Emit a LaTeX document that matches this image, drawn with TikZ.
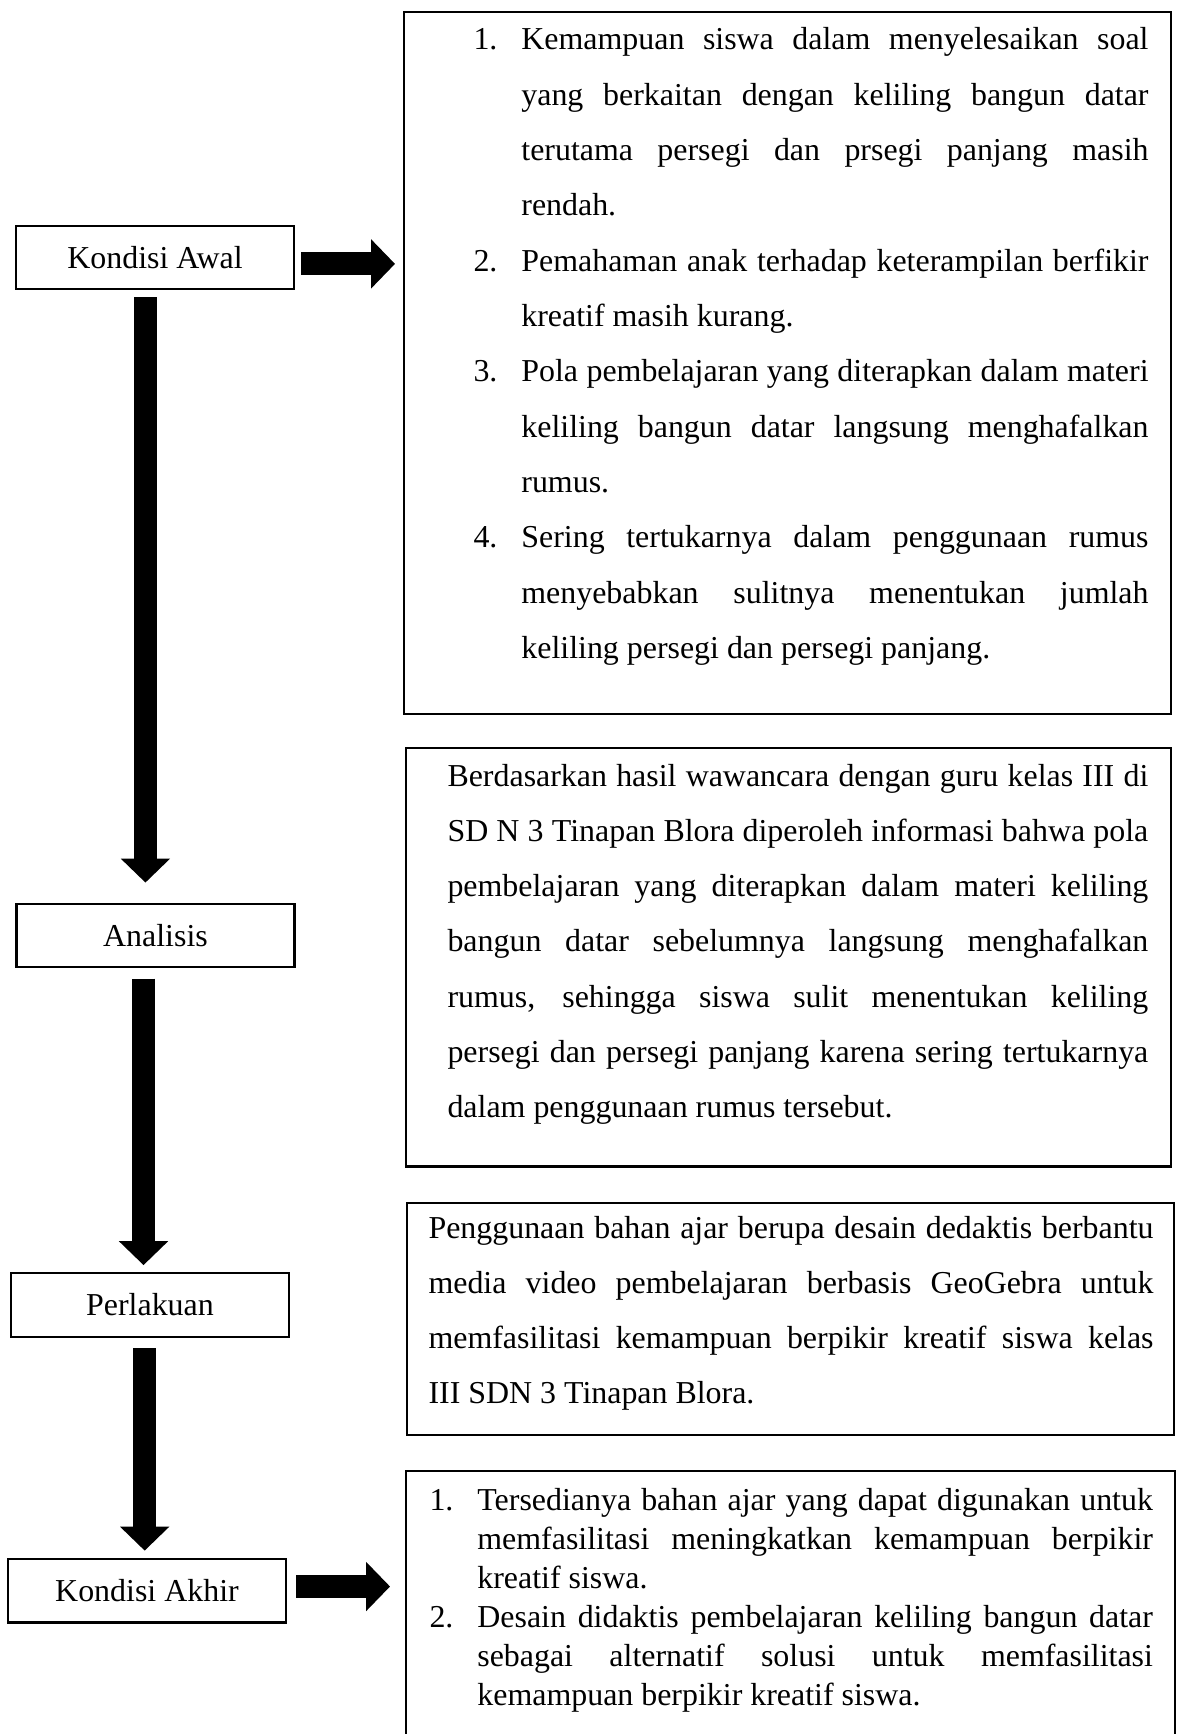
\documentclass[tikz,border=0pt]{standalone}
\usepackage{fontspec}
\setmainfont{Liberation Serif}
\usetikzlibrary{arrows.meta}
\tikzset{>=latex}
\tikzset{
  stage/.style={draw, line width=0.8pt, minimum width=104.5pt, minimum height=24pt, inner sep=0pt, font=\fontsize{12}{14}\selectfont},
  panel/.style={draw, line width=0.9pt, inner sep=0pt, anchor=north west},
  paneltext/.style={anchor=base west, inner sep=0pt, align=justify, font=\fontsize{12}{20.8}\selectfont},
  blockarrow/.style={line width=8.6pt, -{Triangle[length=9pt, width=18pt]}}
}
\newcommand{\numitem}[2]{\hangindent=18pt\hangafter=1\noindent\makebox[18pt][l]{#1}#2\par}

\begin{document}
\begin{tikzpicture}[x=0.376pt, y=-0.376pt]
\useasboundingbox (0,0) rectangle (1182,1734);
% stages
\node[stage] (awal) at (155,257.5) {Kondisi Awal};
\node[stage] (analisis) at (155.5,935.5) {Analisis};
\node[stage] (perlakuan) at (150,1305) {Perlakuan};
\node[stage] (akhir) at (147,1590.5) {Kondisi Akhir};

% kondisi awal
\node[panel, minimum width=288.3pt, minimum height=263.9pt] (awalbox) at (403,11) {};
\node[paneltext, text width=253.8pt] (awaltext) at (473,50) {%
\numitem{1.}{Kemampuan siswa dalam menyelesaikan soal\linebreak yang berkaitan dengan keliling bangun datar\linebreak terutama persegi dan prsegi panjang masih\linebreak rendah.}%
\numitem{2.}{Pemahaman anak terhadap keterampilan berfikir\linebreak kreatif masih kurang.}%
\numitem{3.}{Pola pembelajaran yang diterapkan dalam materi\linebreak keliling bangun datar langsung menghafalkan\linebreak rumus.}%
\numitem{4.}{Sering tertukarnya dalam penggunaan rumus\linebreak menyebabkan sulitnya menentukan jumlah\linebreak keliling persegi dan persegi panjang.}};

% analisis
\node[panel, minimum width=287.6pt, minimum height=157.3pt] (analisisbox) at (405,747) {};
\node[paneltext, text width=263.5pt] (analisistext) at (447,786) {Berdasarkan hasil wawancara dengan guru kelas III di\linebreak SD N 3 Tinapan Blora diperoleh informasi bahwa pola\linebreak pembelajaran yang diterapkan dalam materi keliling\linebreak bangun datar sebelumnya langsung menghafalkan\linebreak rumus, sehingga siswa sulit menentukan keliling\linebreak persegi dan persegi panjang karena sering tertukarnya\linebreak dalam penggunaan rumus tersebut.};

% perlakuan
\node[panel, minimum width=288.3pt, minimum height=87.2pt] (perlakuanbox) at (406,1202) {};
\node[paneltext, text width=272.6pt] (perlakuantext) at (428,1238) {Penggunaan bahan ajar berupa desain dedaktis berbantu\linebreak media video pembelajaran berbasis GeoGebra untuk\linebreak memfasilitasi kemampuan berpikir kreatif siswa kelas\linebreak III SDN 3 Tinapan Blora.};

% kondisi akhir (bottom edge runs off the page)
\node[panel, draw=none, minimum width=288.3pt, minimum height=99pt] (akhirbox) at (406,1471) {};
\draw[line width=0.9pt] (akhirbox.south west) -- (akhirbox.north west) -- (akhirbox.north east) -- (akhirbox.south east);
\node[paneltext, text width=272pt, font=\fontsize{12}{14.7}\selectfont] (akhirtext) at (429,1510) {%
\numitem{1.}{Tersedianya bahan ajar yang dapat digunakan untuk\linebreak memfasilitasi meningkatkan kemampuan berpikir\linebreak kreatif siswa.}%
\numitem{2.}{Desain didaktis pembelajaran keliling bangun datar\linebreak sebagai alternatif solusi untuk memfasilitasi\linebreak kemampuan berpikir kreatif siswa.}};

% arrows
\coordinate (a1) at ([xshift=-3.6pt]awal.south);
\coordinate (a2) at ([xshift=-4.5pt]analisis.south);
\coordinate (a3) at ([xshift=-2pt]perlakuan.south);
\coordinate (r1) at ([yshift=-2.4pt]awal.east);
\coordinate (r2) at ([yshift=1.5pt]akhir.east);
\draw[blockarrow, shorten <=2.6pt, shorten >=7.5pt] (a1) -- (a1 |- analisis.north);
\draw[blockarrow, shorten <=3.8pt, shorten >=2.6pt] (a2) -- (a2 |- perlakuan.north);
\draw[blockarrow, shorten <=3.8pt, shorten >=2.6pt] (a3) -- (a3 |- akhir.north);
\draw[blockarrow, shorten <=2.3pt, shorten >=3pt] (r1) -- (r1 -| awalbox.west);
\draw[blockarrow, shorten <=3.4pt, shorten >=6pt] (r2) -- (r2 -| akhirbox.west);
\end{tikzpicture}
\end{document}
